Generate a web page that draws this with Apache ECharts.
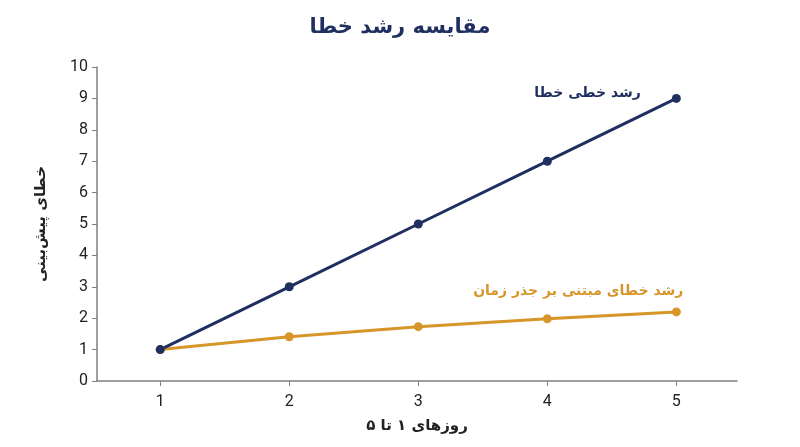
<!DOCTYPE html>
<html><head><meta charset="utf-8">
<script src="https://cdn.jsdelivr.net/npm/echarts@6/dist/echarts.min.js"></script>
<style>html,body{margin:0;padding:0;background:#fff}#c{width:800px;height:447px}</style>
</head><body><div id="c"></div>
<script>
const days = [1, 2, 3, 4, 5];
const linearErr = [1, 3, 5, 7, 9];
const sqrtErr = [1, 1.41, 1.73, 1.98, 2.2];
const yTicks = [0,1,2,3,4,5,6,7,8,9,10];
const titleText = 'مقایسه رشد خطا';
const linearName = 'رشد خطی خطا';
const sqrtName = 'رشد خطای مبتنی بر جذر زمان';
const xName = 'روزهای ۱ تا ۵';
const yName = 'خطای پیش‌بینی';

const NAVY = '#1f2f5f', ORANGE = '#d6962a';
const FA = "'DejaVu Sans', 'Noto Sans', sans-serif";
const chart = echarts.init(document.getElementById('c'));
function pts(arr){ return days.map((d,i)=>[d, arr[i]]); }
chart.setOption({
  animation:false,
  title:{text:titleText, left:'center', top:12, textStyle:{fontFamily:FA, fontSize:21, fontWeight:'bold', color:NAVY}},
  grid:{left:97, right:63, top:67, bottom:66},
  xAxis:{type:'value', min:0.51, max:5.47,
    name:xName, nameLocation:'middle', nameGap:38,
    nameTextStyle:{fontFamily:FA, fontSize:15, fontWeight:'bold', color:'#222'},
    axisLine:{lineStyle:{color:'#808080', width:1.5}},
    axisTick:{show:true, customValues:days, length:5, lineStyle:{color:'#808080'}},
    axisLabel:{customValues:days, fontFamily:'Roboto', fontSize:16, color:'#222', margin:13},
    splitLine:{show:false}},
  yAxis:{type:'value', min:0, max:10, interval:1,
    name:yName, nameLocation:'middle', nameGap:48, nameRotate:90,
    nameTextStyle:{fontFamily:FA, fontSize:15, fontWeight:'bold', color:'#222'},
    axisLine:{show:true, lineStyle:{color:'#808080', width:1.5}},
    axisTick:{show:true, length:5, lineStyle:{color:'#808080'}},
    axisLabel:{fontFamily:'Roboto', fontSize:16, color:'#222', margin:9},
    splitLine:{show:false}},
  series:[
    {type:'line', data:pts(sqrtErr), symbol:'circle', symbolSize:9,
     lineStyle:{color:ORANGE, width:3}, itemStyle:{color:ORANGE},
     label:{show:true, formatter:p=>p.dataIndex===4?sqrtName:'', position:'top', align:'right',
       offset:[7,-4], fontFamily:FA, fontSize:14, fontWeight:'bold', color:ORANGE}},
    {type:'line', data:pts(linearErr), symbol:'circle', symbolSize:9,
     lineStyle:{color:NAVY, width:3}, itemStyle:{color:NAVY},
     label:{show:true, formatter:p=>p.dataIndex===4?linearName:'', position:'left', distance:31,
       offset:[0,-5], fontFamily:FA, fontSize:14, fontWeight:'bold', color:NAVY}}
  ]
});
</script></body></html>
